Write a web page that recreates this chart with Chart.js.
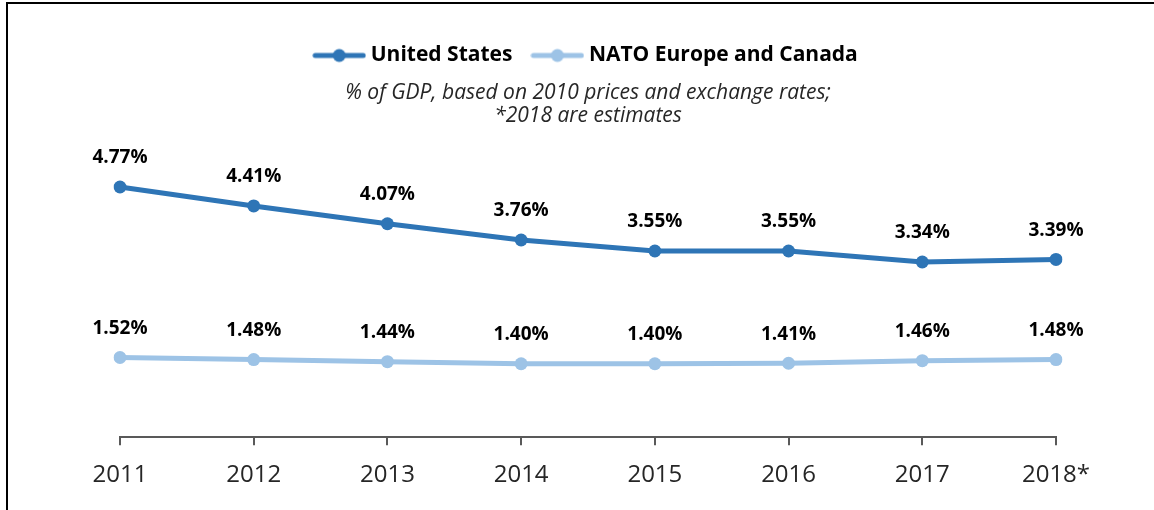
<!DOCTYPE html>
<html><head><meta charset="utf-8">
<script src="https://cdn.jsdelivr.net/npm/chart.js@4/dist/chart.umd.min.js"></script>
<style>html,body{margin:0;padding:0;background:#fff}#wrap{width:1154px;height:510px;position:relative}</style>
</head><body><div id="wrap"><canvas id="c" width="1154" height="510"></canvas></div>
<script>
const years = ['2011','2012','2013','2014','2015','2016','2017','2018*'];
const usValues = [4.77,4.41,4.07,3.76,3.55,3.55,3.34,3.39];
const natoValues = [1.52,1.48,1.44,1.40,1.40,1.41,1.46,1.48];
const seriesNames = ['United States','NATO Europe and Canada'];
const subtitleLines = ['% of GDP, based on 2010 prices and exchange rates;','*2018 are estimates'];

const US_COLOR = '#2E75B6';
const NATO_COLOR = '#9DC3E6';
const FONT = "'Open Sans', 'Noto Sans', sans-serif";

function makeMarker(color){
  const c = document.createElement('canvas');
  c.width = 54; c.height = 16;
  const x = c.getContext('2d');
  x.strokeStyle = color; x.lineWidth = 5; x.lineCap = 'round';
  x.beginPath(); x.moveTo(3,8); x.lineTo(51,8); x.stroke();
  x.fillStyle = color;
  x.beginPath(); x.arc(27,8,6.5,0,Math.PI*2); x.fill();
  return c;
}
const markers = [makeMarker(US_COLOR), makeMarker(NATO_COLOR)];

const frame = {
  id:'frame',
  beforeDraw(chart){
    const ctx = chart.ctx;
    ctx.save();
    ctx.fillStyle = '#fff'; ctx.fillRect(0,0,chart.width,chart.height);
    ctx.fillStyle = '#000';
    ctx.fillRect(6,2,2,chart.height-2);
    ctx.fillRect(6,2,chart.width-6,2);
    ctx.restore();
  }
};

const valueLabels = {
  id:'valueLabels',
  afterDatasetsDraw(chart){
    const ctx = chart.ctx;
    ctx.save();
    ctx.font = "bold 19px " + FONT;
    ctx.fillStyle = '#000';
    ctx.textAlign = 'center';
    ctx.textBaseline = 'middle';
    chart.data.datasets.forEach((ds,i)=>{
      const meta = chart.getDatasetMeta(i);
      meta.data.forEach((pt,j)=>{
        ctx.fillText(ds.data[j].toFixed(2)+'%', pt.x, pt.y-29);
      });
    });
    ctx.restore();
  }
};

new Chart(document.getElementById('c'), {
  type:'line',
  data:{
    labels: years,
    datasets:[
      {label:seriesNames[0], data:usValues, borderColor:US_COLOR, backgroundColor:US_COLOR, borderWidth:5, pointRadius:6.5, pointBackgroundColor:US_COLOR, pointBorderWidth:0, tension:0},
      {label:seriesNames[1], data:natoValues, borderColor:NATO_COLOR, backgroundColor:NATO_COLOR, borderWidth:5, pointRadius:6.5, pointBackgroundColor:NATO_COLOR, pointBorderWidth:0, tension:0}
    ]
  },
  options:{
    responsive:false,
    animation:false,
    layout:{padding:{left:120, right:98, top:21, bottom:4}},
    plugins:{
      tooltip:{enabled:false},
      legend:{
        position:'top',
        weight:3000,
        labels:{
          usePointStyle:true,
          pointStyleWidth:42,
          padding:24,
          color:'#000',
          font:{family:FONT, size:21, weight:'bold'},
          generateLabels(chart){
            const items = Chart.defaults.plugins.legend.labels.generateLabels(chart);
            items.forEach((it,i)=>{ it.pointStyle = markers[i]; });
            return items;
          }
        }
      },
      subtitle:{
        display:true,
        weight:500,
        text:subtitleLines,
        color:'#262626',
        font:{family:FONT, size:21, style:'italic', lineHeight:1.1},
        padding:{top:5,bottom:10}
      }
    },
    scales:{
      x:{
        offset:false,
        grid:{display:true, drawOnChartArea:false, drawTicks:true, tickLength:8, color:'#595959', lineWidth:2},
        border:{display:true, color:'#595959', width:2},
        ticks:{color:'#262626', font:{family:FONT, size:24}, padding:16, maxRotation:0}
      },
      y:{
        display:false,
        min:0,
        max:5.72
      }
    }
  },
  plugins:[frame, valueLabels]
});
</script>
</body></html>
